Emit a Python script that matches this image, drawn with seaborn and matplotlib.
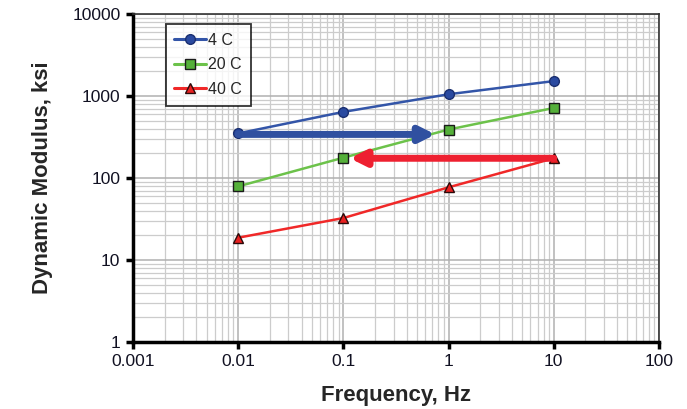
import matplotlib
matplotlib.use("Agg")
import matplotlib.pyplot as plt
import seaborn as sns
import pandas as pd
import numpy as np
from matplotlib.ticker import LogLocator, FixedLocator, FixedFormatter, NullFormatter
from matplotlib.lines import Line2D

# Data
frequency = [0.01, 0.1, 1, 10]
mod_4C = [350, 640, 1050, 1520]
mod_20C = [79, 177, 390, 715]
mod_40C = [18.7, 32.5, 77, 174]
series_names = ["4 C", "20 C", "40 C"]
x_ticks = [0.001, 0.01, 0.1, 1, 10, 100]
x_tick_labels = ["0.001", "0.01", "0.1", "1", "10", "100"]
y_ticks = [1, 10, 100, 1000, 10000]
y_tick_labels = ["1", "10", "100", "1000", "10000"]
# arrows (shift): start/end frequency and modulus level
blue_arrow = dict(x0=0.01, x1=0.75, y=340)
red_arrow = dict(x0=10, x1=0.115, y=174)

df = pd.DataFrame({
    "Frequency": frequency * 3,
    "Modulus": mod_4C + mod_20C + mod_40C,
    "Temp": [series_names[0]] * 4 + [series_names[1]] * 4 + [series_names[2]] * 4,
})

sns.set_style("white")
plt.rcParams['font.family'] = ['Liberation Sans', 'DejaVu Sans']

fig = plt.figure(figsize=(6.87, 4.09), dpi=100)
ax = fig.add_axes([133/687, 1-342/409, (659-133)/687, (342-14)/409])

line_colors = {"4 C": "#3355a8", "20 C": "#6cc24a", "40 C": "#f02828"}
marker_face = {"4 C": "#2a4aa0", "20 C": "#55b03a", "40 C": "#e82020"}
marker_edge = {"4 C": "#1a2f70", "20 C": "#1a1a1a", "40 C": "#2a0a0a"}
markers = {"4 C": "o", "20 C": "s", "40 C": "^"}

for name in series_names:
    sub = df[df["Temp"] == name]
    sns.lineplot(data=sub, x="Frequency", y="Modulus", ax=ax, color=line_colors[name],
                 marker=markers[name], markersize=7, markerfacecolor=marker_face[name],
                 markeredgecolor=marker_edge[name], markeredgewidth=1.0, linewidth=1.8,
                 legend=False, zorder=4)

ax.set_xscale("log")
ax.set_yscale("log")
ax.set_xlim(0.001, 100)
ax.set_ylim(1, 10000)

ax.xaxis.set_major_locator(FixedLocator(x_ticks))
ax.xaxis.set_major_formatter(FixedFormatter(x_tick_labels))
ax.yaxis.set_major_locator(FixedLocator(y_ticks))
ax.yaxis.set_major_formatter(FixedFormatter(y_tick_labels))
ax.xaxis.set_minor_locator(LogLocator(base=10, subs=np.arange(2, 10), numticks=20))
ax.yaxis.set_minor_locator(LogLocator(base=10, subs=np.arange(2, 10), numticks=20))
ax.xaxis.set_minor_formatter(NullFormatter())
ax.yaxis.set_minor_formatter(NullFormatter())

ax.grid(True, which="major", color="#b0b0b0", linewidth=1.1, zorder=0)
ax.grid(True, which="minor", color="#cccccc", linewidth=0.9, zorder=0)
ax.set_axisbelow(True)

ax.tick_params(axis="both", which="major", direction="out", length=5, width=2.5,
               labelsize=12.5, color="black", pad=4, bottom=True, left=True)
ax.tick_params(axis="both", which="minor", length=0)
for lab in ax.get_xticklabels() + ax.get_yticklabels():
    lab.set_color("#111122")

for s in ["left", "bottom"]:
    ax.spines[s].set_color("black")
    ax.spines[s].set_linewidth(2.5)
for s in ["top", "right"]:
    ax.spines[s].set_color("#333333")
    ax.spines[s].set_linewidth(1.2)

ax.set_xlabel("Frequency, Hz", fontsize=16, fontweight="bold", labelpad=11)
ax.set_ylabel("Dynamic Modulus, ksi", fontsize=16, fontweight="bold", labelpad=14)

# arrows
ax.annotate("", xy=(blue_arrow["x1"], blue_arrow["y"]), xytext=(blue_arrow["x0"], blue_arrow["y"]),
            arrowprops=dict(arrowstyle="-|>,head_length=0.9,head_width=0.45", color="#3050a0",
                            linewidth=5, shrinkA=0, shrinkB=0), zorder=5)
ax.annotate("", xy=(red_arrow["x1"], red_arrow["y"]), xytext=(red_arrow["x0"], red_arrow["y"]),
            arrowprops=dict(arrowstyle="-|>,head_length=0.9,head_width=0.45", color="#ee2030",
                            linewidth=5, shrinkA=0, shrinkB=0), zorder=5)

handles = [Line2D([0], [0], color=line_colors[n], marker=markers[n], markersize=7,
                  markerfacecolor=marker_face[n], markeredgecolor=marker_edge[n], linewidth=2.2)
           for n in series_names]
leg = ax.legend(handles, series_names, loc="upper left", bbox_to_anchor=(0.062, 0.97),
                fontsize=11.5, frameon=True, fancybox=False, edgecolor="black",
                handlelength=2.0, handletextpad=0.1, borderpad=0.55, labelspacing=0.6,
                borderaxespad=0)
leg.get_frame().set_linewidth(1.3)
leg.set_zorder(6)

fig.savefig("out.png", dpi=100)
